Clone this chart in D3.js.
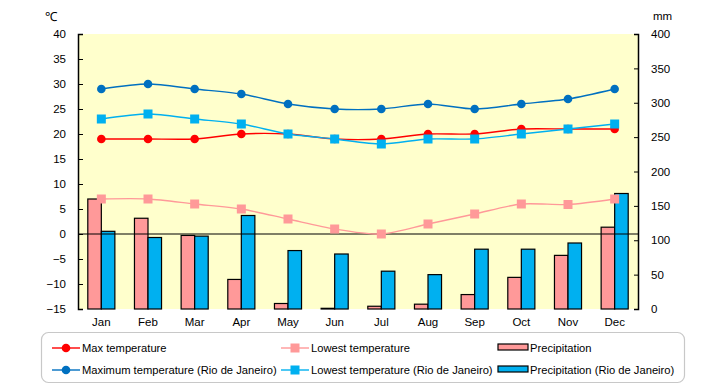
<!DOCTYPE html>
<html><head><meta charset="utf-8">
<script src="https://cdn.jsdelivr.net/npm/d3@7"></script>
<style>
body{margin:0;background:#fff;}
text{font-family:"Liberation Sans",Arial,sans-serif;font-size:11px;fill:#000;}
</style></head>
<body><svg id="c" width="720" height="385"></svg>
<script>
const months = ["Jan","Feb","Mar","Apr","May","Jun","Jul","Aug","Sep","Oct","Nov","Dec"];
const maxTemp = [19,19,19,20,20,19,19,20,20,21,21,21];
const lowTemp = [7,7,6,5,3,1,0,2,4,6,5.9,7];
const precip = [160,132,107,43,8,1,4,7,21,46,78,119];
const maxTempRio = [29,30,29,28,26,25,25,26,25,26,27,29];
const lowTempRio = [23,24,23,22,20,19,18,19,19,20,21,22];
const precipRio = [113,104,106,136,85,80,55,50,87,87,96,168];
const tempTicks = [40,35,30,25,20,15,10,5,0,-5,-10,-15];
const mmTicks = [400,350,300,250,200,150,100,50,0];

const svg = d3.select("#c");
const L = 78, R = 638, T = 34, B = 309;
const x = d3.scaleBand().domain(months).range([L, R]);
const bw = x.bandwidth();
const x1 = d3.scaleBand().domain(["a","b"]).range([bw*0.21, bw*0.79]);
const yT = d3.scaleLinear().domain([-15,40]).range([B, T]);
const yP = d3.scaleLinear().domain([0,400]).range([B, T]);

svg.append("rect").attr("x", L).attr("y", T).attr("width", R-L).attr("height", B-T).attr("fill", "#FFFFCC");

// bars
const g = svg.append("g");
g.selectAll(".p1").data(precip).join("rect")
  .attr("x", (d,i) => x(months[i]) + x1("a")).attr("width", x1.bandwidth())
  .attr("y", d => yP(d)).attr("height", d => B - yP(d))
  .attr("fill", "#FF9999").attr("stroke", "#000").attr("stroke-width", 1.2);
g.selectAll(".p2").data(precipRio).join("rect")
  .attr("x", (d,i) => x(months[i]) + x1("b")).attr("width", x1.bandwidth())
  .attr("y", d => yP(d)).attr("height", d => B - yP(d))
  .attr("fill", "#00B0F0").attr("stroke", "#000").attr("stroke-width", 1.2);

// zero line
svg.append("line").attr("x1", L).attr("x2", R).attr("y1", yT(0)).attr("y2", yT(0)).attr("stroke", "#000").attr("stroke-width", 1.2);

// axes
const axL = d3.axisLeft(yT).tickValues(tempTicks).tickSize(-5).tickPadding(10).tickFormat(d3.format("d"));
const gl = svg.append("g").attr("transform", `translate(${L},0)`).call(axL);
const axR = d3.axisRight(yP).tickValues(mmTicks).tickSize(-4).tickPadding(13).tickFormat(d3.format("d"));
const gr = svg.append("g").attr("transform", `translate(${R},0)`).call(axR);
[gl, gr].forEach(a => {
  a.select(".domain").attr("stroke", "#000").attr("stroke-width", 1.5);
  a.selectAll(".tick line").attr("stroke", "#000");
  a.selectAll("text").style("font-size", "11.5px").attr("fill", "#000");
});
gl.selectAll("text").attr("x", -12);

const axB = d3.axisBottom(x).tickSize(0).tickPadding(9);
const gb = svg.append("g").attr("transform", `translate(0,${B})`).call(axB);
gb.select(".domain").remove();
gb.selectAll("text").style("font-size", "11.5px").attr("fill", "#000");

svg.append("text").attr("x", 45).attr("y", 21).style("font-size", "12.5px").text("℃");
svg.append("text").attr("x", 653).attr("y", 20).style("font-size", "11.5px").text("mm");

// lines
const cx = i => x(months[i]) + bw/2;
const lineGen = d3.line().x((d,i) => cx(i)).y(d => yT(d)).curve(d3.curveCardinal.tension(0.2));
const series = [
  {v: maxTemp, c: "#FF0000", m: "circle", name: "Max temperature"},
  {v: lowTemp, c: "#FF9999", m: "square", name: "Lowest temperature"},
  {v: maxTempRio, c: "#0070C0", m: "circle", name: "Maximum temperature (Rio de Janeiro)"},
  {v: lowTempRio, c: "#00B0F0", m: "square", name: "Lowest temperature (Rio de Janeiro)"}
];
function marker(sel, type, c, px, py) {
  if (type === "circle") sel.append("circle").attr("cx", px).attr("cy", py).attr("r", 4.3).attr("fill", c);
  else sel.append("rect").attr("x", px-4.5).attr("y", py-4.5).attr("width", 9).attr("height", 9).attr("fill", c);
}
series.forEach(s => {
  const sg = svg.append("g");
  sg.append("path").attr("d", lineGen(s.v)).attr("fill", "none").attr("stroke", s.c).attr("stroke-width", 1.4);
  s.v.forEach((d,i) => marker(sg, s.m, s.c, cx(i), yT(d)));
});

// legend
svg.append("rect").attr("x", 41.5).attr("y", 332.5).attr("width", 643).attr("height", 50).attr("rx", 7)
  .attr("fill", "#fff").attr("stroke", "#c8c8c8").attr("stroke-width", 1.2);
const leg = [
  {s: series[0], x: 52, y: 348}, {s: series[1], x: 281, y: 348},
  {s: series[2], x: 52, y: 370}, {s: series[3], x: 281, y: 370}
];
leg.forEach(l => {
  const lg = svg.append("g");
  lg.append("line").attr("x1", l.x).attr("x2", l.x+28).attr("y1", l.y).attr("y2", l.y).attr("stroke", l.s.c).attr("stroke-width", 1.4);
  marker(lg, l.s.m, l.s.c, l.x+14, l.y);
  lg.append("text").attr("x", l.x+30).attr("y", l.y+4).style("font-size", "11.2px").text(l.s.name);
});
[{c:"#FF9999", t:"Precipitation", y:348}, {c:"#00B0F0", t:"Precipitation (Rio de Janeiro)", y:370}].forEach(b => {
  svg.append("rect").attr("x", 498).attr("y", b.y-4).attr("width", 30).attr("height", 6).attr("fill", b.c).attr("stroke", "#000").attr("stroke-width", 1.2);
  svg.append("text").attr("x", 530).attr("y", b.y+4).style("font-size", "11.2px").text(b.t);
});
</script></body></html>
